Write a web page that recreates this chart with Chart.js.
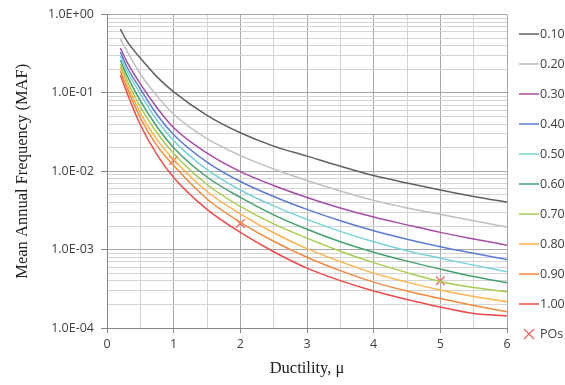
<!DOCTYPE html>
<html><head><meta charset="utf-8">
<script src="https://cdn.jsdelivr.net/npm/chart.js@4/dist/chart.umd.min.js"></script>
<style>html,body{margin:0;padding:0;background:#fff;overflow:hidden;}</style>
</head><body>
<canvas id="c" width="565" height="385"></canvas>
<script>
// ---- data ----
const ductility = [0.2, 0.3, 0.5, 0.75, 1, 1.5, 2, 2.5, 3, 3.5, 4, 4.5, 5, 5.5, 6];
const seriesLabels = ['0.10', '0.20', '0.30', '0.40', '0.50', '0.60', '0.70', '0.80', '0.90', '1.00'];
const maf010 = [0.650, 0.458, 0.278, 0.160, 0.103, 0.0518, 0.0310, 0.0209, 0.0156, 0.0116, 0.00881, 0.00708, 0.00577, 0.00477, 0.00404];
const maf020 = [0.485, 0.342, 0.174, 0.0916, 0.0533, 0.0260, 0.0158, 0.0107, 0.00762, 0.00560, 0.00425, 0.00340, 0.00282, 0.00233, 0.00194];
const maf030 = [0.373, 0.248, 0.130, 0.0645, 0.0359, 0.0170, 0.00991, 0.00658, 0.00463, 0.00340, 0.00260, 0.00207, 0.00166, 0.00137, 0.00114];
const maf040 = [0.332, 0.214, 0.112, 0.0525, 0.0293, 0.0131, 0.00740, 0.00477, 0.00326, 0.00233, 0.00174, 0.00136, 0.00109, 0.000900, 0.000748];
const maf050 = [0.295, 0.190, 0.0971, 0.0447, 0.0246, 0.0105, 0.00577, 0.00361, 0.00243, 0.00171, 0.00126, 0.000968, 0.000778, 0.000634, 0.000521];
const maf060 = [0.263, 0.167, 0.0791, 0.0370, 0.0200, 0.00844, 0.00463, 0.00278, 0.00182, 0.00126, 0.000927, 0.000713, 0.000564, 0.000453, 0.000378];
const maf070 = [0.234, 0.146, 0.0664, 0.0310, 0.0168, 0.00678, 0.00356, 0.00213, 0.00140, 0.000955, 0.000682, 0.000509, 0.000391, 0.000328, 0.000290];
const maf080 = [0.214, 0.130, 0.0557, 0.0253, 0.0141, 0.00552, 0.00286, 0.00164, 0.00103, 0.000702, 0.000501, 0.000385, 0.000305, 0.000252, 0.000216];
const maf090 = [0.190, 0.116, 0.0481, 0.0212, 0.0118, 0.00443, 0.00223, 0.00128, 0.000800, 0.000539, 0.000385, 0.000296, 0.000238, 0.000194, 0.000161];
const maf100 = [0.169, 0.100, 0.0392, 0.0163, 0.00832, 0.00326, 0.00166, 0.000940, 0.000581, 0.000402, 0.000296, 0.000231, 0.000185, 0.000153, 0.000143];
const poDuctility = [1, 2, 5];
const poMAF = [0.0138, 0.00215, 0.00040];
const poLabel = 'POs';
const xTickValues = [0, 1, 2, 3, 4, 5, 6];
const yDecades = [-4, -3, -2, -1, 0];

// ---- styles ----
const seriesColors = ['#606060', '#bfbfbf', '#a64ca6', '#5b7bd5', '#78d2da', '#45a070', '#a8cc4c', '#ffb24c', '#f28a3e', '#f04a4a'];
const allSeries = [maf010, maf020, maf030, maf040, maf050, maf060, maf070, maf080, maf090, maf100];

const datasets = allSeries.map((vals, i) => ({
  type: 'line',
  label: seriesLabels[i],
  data: ductility.map((x, j) => ({x, y: vals[j]})),
  borderColor: seriesColors[i],
  backgroundColor: seriesColors[i],
  borderWidth: 1.5,
  pointRadius: 0,
  fill: false,
  cubicInterpolationMode: 'monotone'
}));
datasets.push({
  type: 'scatter',
  label: poLabel,
  data: poDuctility.map((x, j) => ({x, y: poMAF[j]})),
  pointStyle: 'crossRot',
  pointRadius: 6,
  borderColor: '#f06464',
  backgroundColor: '#f06464',
  pointBorderWidth: 1.3,
  showLine: false
});

const isDecade = v => Math.abs(Math.log10(v) - Math.round(Math.log10(v))) < 1e-9;
const fmtE = v => {
  const e = Math.round(Math.log10(v));
  return '1.0E' + (e < 0 ? '-' : '+') + String(Math.abs(e)).padStart(2, '0');
};

const sideLegend = {
  id: 'sideLegend',
  afterDraw(chart) {
    const {ctx, chartArea} = chart;
    const x0 = chartArea.right + 12;
    let y = chartArea.top + 19.5;
    ctx.save();
    ctx.font = '12.5px "Open Sans"';
    ctx.textBaseline = 'middle';
    ctx.textAlign = 'left';
    chart.data.datasets.forEach(ds => {
      ctx.strokeStyle = ds.borderColor;
      if (ds.pointStyle === 'crossRot') {
        ctx.lineWidth = 1.3;
        const cx = x0 + 10, r = 5;
        ctx.beginPath();
        ctx.moveTo(cx - r, y - r); ctx.lineTo(cx + r, y + r);
        ctx.moveTo(cx + r, y - r); ctx.lineTo(cx - r, y + r);
        ctx.stroke();
      } else {
        ctx.lineWidth = 1.5;
        ctx.beginPath();
        ctx.moveTo(x0, y); ctx.lineTo(x0 + 20, y);
        ctx.stroke();
      }
      ctx.fillStyle = '#404040';
      ctx.fillText(ds.label, x0 + 21, y);
      y += 30;
    });
    ctx.restore();
  }
};

new Chart(document.getElementById('c'), {
  data: {datasets},
  plugins: [sideLegend],
  options: {
    responsive: false,
    animation: false,
    devicePixelRatio: 1,
    layout: {padding: {top: 13, right: 58, left: 0, bottom: 0}},
    plugins: {legend: {display: false}, tooltip: {enabled: false}},
    scales: {
      x: {
        type: 'linear',
        min: 0, max: 6,
        afterBuildTicks: s => { s.ticks = []; for (let v = 0; v <= 12; v++) s.ticks.push({value: v / 2}); },
        afterFit: s => { s.height = 57; },
        ticks: {
          autoSkip: false,
          padding: 4,
          color: '#404040',
          font: {family: '"Open Sans"', size: 12.5},
          callback: v => xTickValues.includes(v) ? String(v) : ''
        },
        grid: {
          color: c => (c.tick && Number.isInteger(c.tick.value)) ? '#a6a6a6' : '#d4d4d4',
          tickColor: c => (c.tick && Number.isInteger(c.tick.value)) ? '#868686' : 'rgba(0,0,0,0)',
          tickLength: 5,
          lineWidth: 1
        },
        border: {color: '#868686'},
        title: {
          display: true,
          text: 'Ductility, μ',
          color: '#202020',
          font: {family: '"Liberation Serif"', size: 16.5},
          padding: {top: 0, bottom: 6}
        }
      },
      y: {
        type: 'logarithmic',
        min: 1e-4, max: 1,
        afterBuildTicks: s => {
          const t = [];
          yDecades.forEach(e => { for (let m = 1; m <= 9; m++) { const v = m * Math.pow(10, e); if (v <= 1) t.push({value: v}); } });
          s.ticks = t;
        },
        afterFit: s => { s.width = 107; },
        ticks: {
          autoSkip: false,
          padding: 7,
          color: '#404040',
          font: {family: '"Open Sans"', size: 12.5},
          callback: v => isDecade(v) ? fmtE(v) : ''
        },
        grid: {
          color: c => (c.tick && isDecade(c.tick.value)) ? '#a6a6a6' : '#d4d4d4',
          tickColor: c => (c.tick && isDecade(c.tick.value)) ? '#868686' : 'rgba(0,0,0,0)',
          tickLength: 6,
          lineWidth: 1
        },
        border: {color: '#868686'},
        title: {
          display: true,
          text: 'Mean Annual Frequency (MAF)',
          color: '#202020',
          font: {family: '"Liberation Serif"', size: 16.5},
          padding: {top: 13, bottom: 0}
        }
      }
    }
  }
});
</script>
</body></html>
